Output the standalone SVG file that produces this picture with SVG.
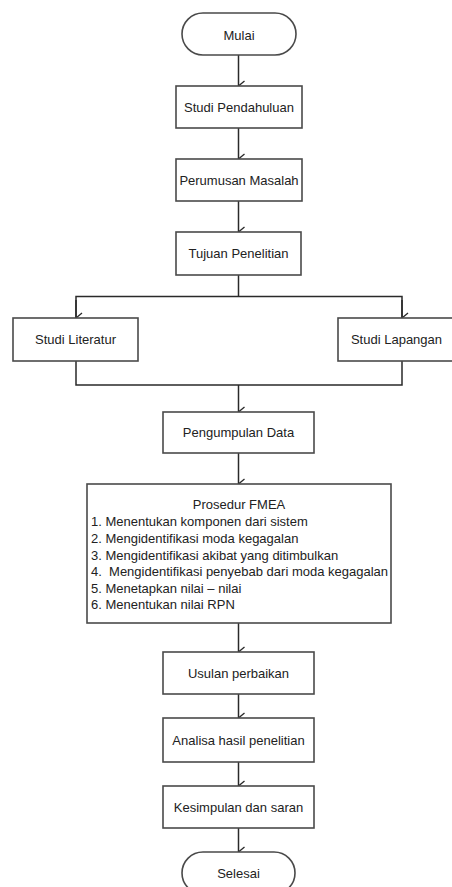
<svg xmlns="http://www.w3.org/2000/svg" width="452" height="887" viewBox="0 0 452 887">
<style>
.box{fill:#fff;stroke:#4a4a4a;stroke-width:1.6}
.ln{fill:none;stroke:#2a2a2a;stroke-width:1.5}
.t{font-family:"Liberation Sans",Arial,sans-serif;font-size:13px;fill:#222;text-anchor:middle}
.tl{font-family:"Liberation Sans",Arial,sans-serif;font-size:13px;fill:#222}
</style>
<defs>
<marker id="arr" markerWidth="12" markerHeight="10" viewBox="0 0 12 10" refX="6" refY="9" orient="auto-start-reverse" markerUnits="userSpaceOnUse">
<path d="M1,3 L6,9 L11,3" fill="none" stroke="#2a2a2a" stroke-width="1.3"/>
</marker>
</defs>
<rect width="452" height="887" fill="#fff"/>
<g id="connectors">
<line class="ln" x1="238.5" y1="55" x2="238.5" y2="86" marker-end="url(#arr)"/>
<line class="ln" x1="238.5" y1="128" x2="238.5" y2="159" marker-end="url(#arr)"/>
<line class="ln" x1="238.5" y1="201" x2="238.5" y2="232" marker-end="url(#arr)"/>
<polyline class="ln" points="238.5,275 238.5,296.5"/>
<polyline class="ln" points="76,318 76,296.5 402,296.5 402,318"/>
<line class="ln" x1="76" y1="300" x2="76" y2="318" marker-end="url(#arr)"/>
<line class="ln" x1="402" y1="300" x2="402" y2="318" marker-end="url(#arr)"/>
<polyline class="ln" points="76,361 76,385 402,385 402,361"/>
<line class="ln" x1="238.5" y1="385" x2="238.5" y2="412" marker-end="url(#arr)"/>
<line class="ln" x1="238.5" y1="453" x2="238.5" y2="484" marker-end="url(#arr)"/>
<line class="ln" x1="238.5" y1="623" x2="238.5" y2="652" marker-end="url(#arr)"/>
<line class="ln" x1="238.5" y1="694" x2="238.5" y2="718" marker-end="url(#arr)"/>
<line class="ln" x1="238.5" y1="762" x2="238.5" y2="786" marker-end="url(#arr)"/>
<line class="ln" x1="238.5" y1="828" x2="238.5" y2="852" marker-end="url(#arr)"/>
</g>
<g id="mulai">
<rect class="box" x="182" y="13" width="114" height="42" rx="21" ry="21"/>
<text class="t" x="239" y="39.5">Mulai</text>
</g>
<g id="studi-pendahuluan">
<rect class="box" x="176" y="86" width="126" height="42"/>
<text class="t" x="239" y="111.5">Studi Pendahuluan</text>
</g>
<g id="perumusan-masalah">
<rect class="box" x="176" y="159" width="126" height="42"/>
<text class="t" x="239" y="184.5">Perumusan Masalah</text>
</g>
<g id="tujuan-penelitian">
<rect class="box" x="176" y="232" width="125" height="43"/>
<text class="t" x="238.5" y="258">Tujuan Penelitian</text>
</g>
<g id="studi-literatur">
<rect class="box" x="13" y="318" width="125" height="43"/>
<text class="t" x="75.5" y="344">Studi Literatur</text>
</g>
<g id="studi-lapangan">
<rect class="box" x="338" y="318" width="117" height="43"/>
<text class="t" x="396.5" y="344">Studi Lapangan</text>
</g>
<g id="pengumpulan-data">
<rect class="box" x="163" y="412" width="151" height="41"/>
<text class="t" x="238.5" y="437">Pengumpulan Data</text>
</g>
<g id="prosedur-fmea">
<rect class="box" x="87" y="484" width="304" height="139"/>
<text class="t" x="239" y="508.5">Prosedur FMEA</text>
<text class="tl" x="91" y="526">1. Menentukan komponen dari sistem</text>
<text class="tl" x="91" y="543">2. Mengidentifikasi moda kegagalan</text>
<text class="tl" x="91" y="559.5">3. Mengidentifikasi akibat yang ditimbulkan</text>
<text class="tl" x="91" y="576">4. &#160;Mengidentifikasi penyebab dari moda kegagalan</text>
<text class="tl" x="91" y="592.5">5. Menetapkan nilai – nilai</text>
<text class="tl" x="91" y="609">6. Menentukan nilai RPN</text>
</g>
<g id="usulan-perbaikan">
<rect class="box" x="163" y="652" width="151" height="42"/>
<text class="t" x="238.5" y="677.5">Usulan perbaikan</text>
</g>
<g id="analisa-hasil">
<rect class="box" x="163" y="718" width="151" height="44"/>
<text class="t" x="238.5" y="744.5">Analisa hasil penelitian</text>
</g>
<g id="kesimpulan">
<rect class="box" x="163" y="786" width="151" height="42"/>
<text class="t" x="238.5" y="811.5">Kesimpulan dan saran</text>
</g>
<g id="selesai">
<rect class="box" x="182" y="852" width="113" height="42" rx="21" ry="21"/>
<text class="t" x="238.5" y="878">Selesai</text>
</g>
</svg>
